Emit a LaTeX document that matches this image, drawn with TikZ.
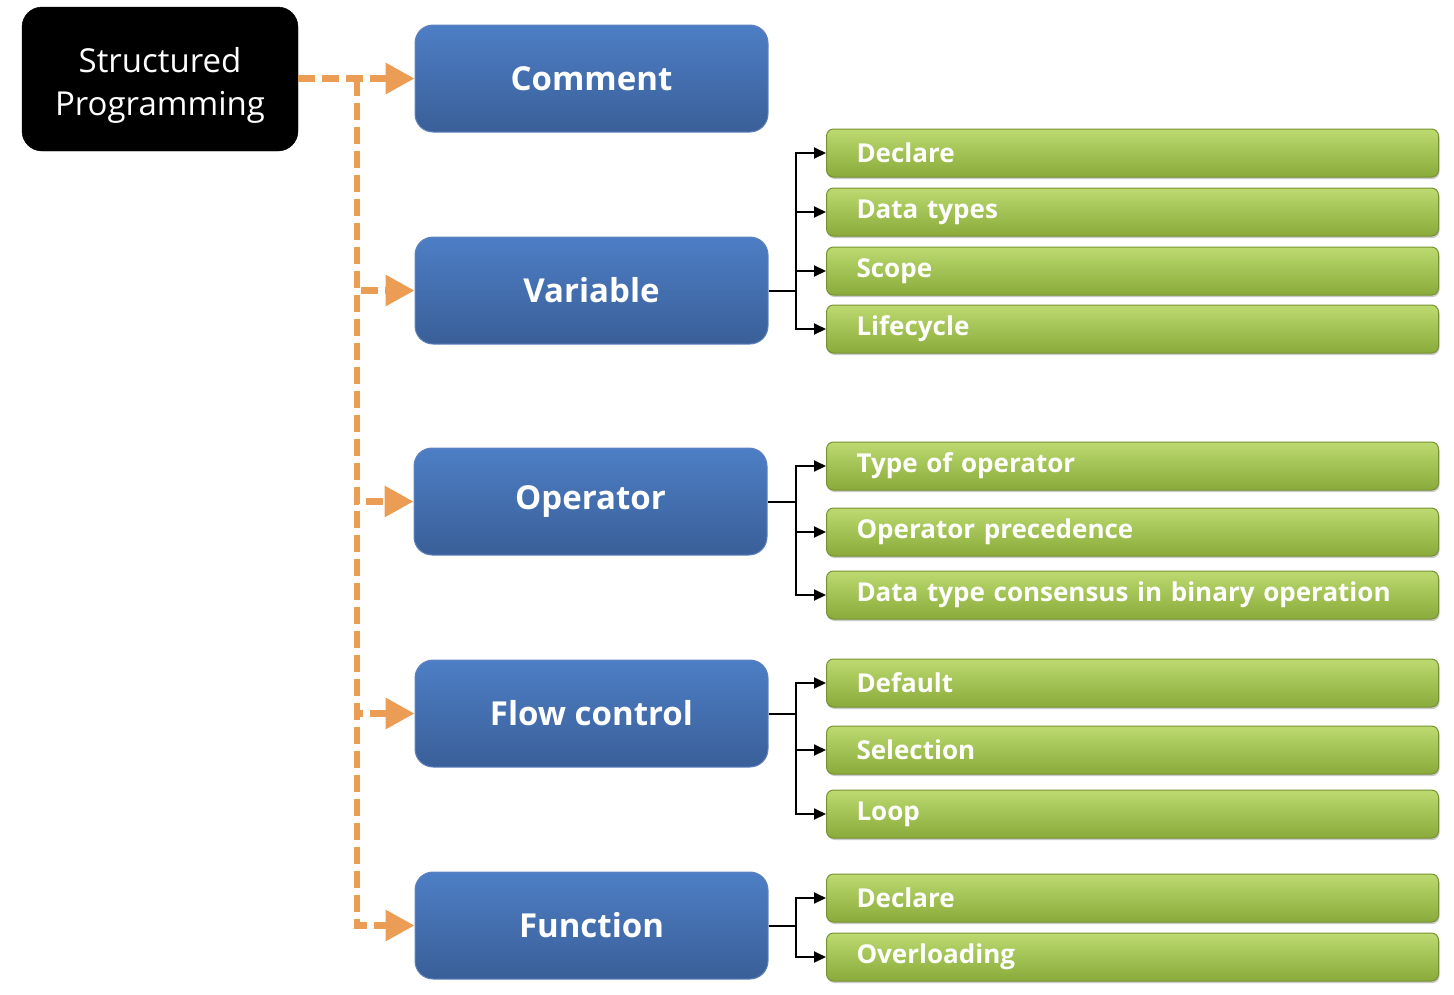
\documentclass[tikz,border=0pt]{standalone}
\usepackage{fontspec}
\setmainfont{Open Sans}
\usetikzlibrary{arrows.meta,shadows}
\definecolor{bluetop}{RGB}{77,126,197}
\definecolor{bluebot}{RGB}{58,95,152}
\definecolor{blueline}{RGB}{95,130,190}
\definecolor{greentop}{RGB}{188,218,112}
\definecolor{greenbot}{RGB}{138,170,58}
\definecolor{greenline}{RGB}{118,146,48}
\definecolor{orangeln}{RGB}{235,157,85}
\tikzset{
  rootbox/.style={draw=black,fill=black,rounded corners=20pt,minimum width=276pt,minimum height=144pt},
  roottext/.style={text=white,align=center,font=\fontsize{33}{43}\selectfont},
  bluebox/.style={draw=blueline,line width=1pt,top color=bluetop,bottom color=bluebot,rounded corners=18pt,
    minimum width=353pt,minimum height=107pt,text=white,font=\bfseries\fontsize{33}{40}\selectfont},
  greenbox/.style={draw=greenline,line width=1pt,top color=greentop,bottom color=greenbot,rounded corners=7pt,
    minimum width=612pt,minimum height=48pt,inner xsep=30pt,text width=552pt,align=left,anchor=west,
    text=white,font=\bfseries\fontsize{26}{30}\selectfont,
    drop shadow={shadow xshift=1pt,shadow yshift=-2pt,opacity=0.35,fill=black!60}},
  dashline/.style={draw=orangeln,line width=6.5pt,dash pattern=on 17pt off 7pt},
  dasharrow/.style={dashline,-{Triangle[length=29pt,width=30pt]}},
  conn/.style={draw=black,line width=2pt},
  connarrow/.style={conn,-{Triangle[length=12pt,width=11pt]}}
}
\begin{document}
\begin{tikzpicture}[x=1pt,y=-1pt]
\useasboundingbox (0,0) rectangle (1454,994);
\node[rootbox] (sp) at (160,79) {};
\node[roottext] (sptext) at (160,85) {Structured\\Programming};
\node[bluebox] (comment) at (591.5,78.5) {Comment};
\node[bluebox] (variable) at (591.5,290.5) {Variable};
\node[bluebox] (operator) at (590.5,501.5) {Operator};
\node[bluebox] (flow) at (591.5,713.5) {Flow control};
\node[bluebox] (function) at (591.5,925.5) {Function};

\node[greenbox] (v1) at (826,153) {Declare};
\node[greenbox] (v2) at (826,212) {Data types};
\node[greenbox] (v3) at (826,271) {Scope};
\node[greenbox] (v4) at (826,329) {Lifecycle};
\node[greenbox] (o1) at (826,466) {Type of operator};
\node[greenbox] (o2) at (826,532) {Operator precedence};
\node[greenbox] (o3) at (826,595) {Data type consensus in binary operation};
\node[greenbox] (f1) at (826,683) {Default};
\node[greenbox] (f2) at (826,750) {Selection};
\node[greenbox] (f3) at (826,814) {Loop};
\node[greenbox] (u1) at (826,898) {Declare};
\node[greenbox] (u2) at (826,957) {Overloading};

% orange dashed connectors
\coordinate (trunk) at (357,78.5);
\draw[dasharrow] (sp.east |- comment.west) -- (comment.west);
\draw[dasharrow] (trunk) |- (variable.west);
\draw[dasharrow] (trunk) |- (operator.west);
\draw[dasharrow] (trunk) |- (flow.west);
\draw[dasharrow] (trunk) |- (function.west);

% black connectors
\coordinate (vj) at (796,290.5);
\coordinate (oj) at (796,501.5);
\coordinate (fj) at (796,713.5);
\coordinate (uj) at (796,925.5);
\draw[conn] (variable.east) -- (vj);
\draw[conn] (operator.east) -- (oj);
\draw[conn] (flow.east) -- (fj);
\draw[conn] (function.east) -- (uj);
\foreach \g in {v1,v2,v3,v4} \draw[connarrow] (vj) |- (\g.west);
\foreach \g in {o1,o2,o3} \draw[connarrow] (oj) |- (\g.west);
\foreach \g in {f1,f2,f3} \draw[connarrow] (fj) |- (\g.west);
\foreach \g in {u1,u2} \draw[connarrow] (uj) |- (\g.west);
\end{tikzpicture}
\end{document}
